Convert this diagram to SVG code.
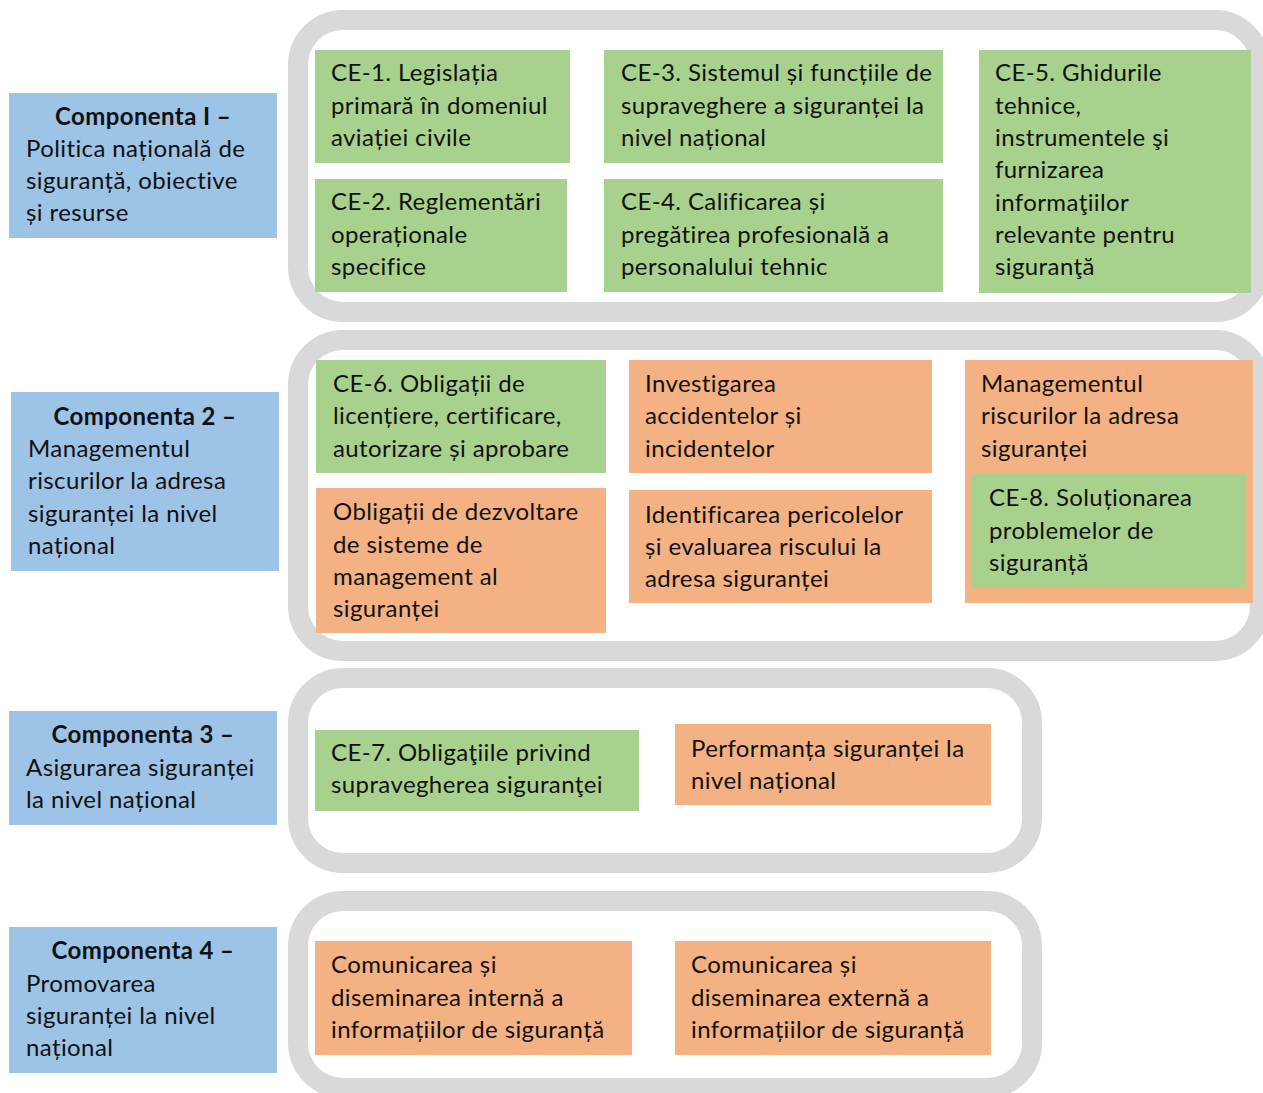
<svg xmlns="http://www.w3.org/2000/svg" width="1263" height="1093" viewBox="0 0 1263 1093">
<style>
text{font-family:Lato,"Liberation Sans",sans-serif;font-size:24px;letter-spacing:0.4px;fill:#111}
.b{font-weight:bold}
.c{text-anchor:middle}
.frame{fill:#fff;stroke:#d9d9d9;stroke-width:20}
.blue{fill:#9dc3e6}
.green{fill:#a9d18e}
.orange{fill:#f4b183}
</style>
<rect width="1263" height="1093" fill="#fff"/>
<g id="frames">
<rect class="frame" x="298" y="20" width="962" height="292" rx="45"/>
<rect class="frame" x="298" y="340" width="962" height="311" rx="45"/>
<rect class="frame" x="298" y="678" width="734" height="185" rx="45"/>
<rect class="frame" x="298" y="901" width="734" height="187" rx="45"/>
</g>
<g id="connectors"></g>
<g id="comp1"><rect class="blue" x="9" y="93" width="268" height="145"/>
<text class="b c" x="143" y="125">Componenta I –</text>
<text x="26" y="157">Politica națională de</text><text x="26" y="189">siguranță, obiective</text><text x="26" y="221">și resurse</text></g>
<g id="comp2"><rect class="blue" x="11" y="392" width="268" height="179"/>
<text class="b c" x="145" y="425">Componenta 2 –</text>
<text x="28" y="457">Managementul</text><text x="28" y="489">riscurilor la adresa</text><text x="28" y="522">siguranței la nivel</text><text x="28" y="554">național</text></g>
<g id="comp3"><rect class="blue" x="9" y="711" width="268" height="114"/>
<text class="b c" x="143" y="743">Componenta 3 –</text>
<text x="26" y="776">Asigurarea siguranței</text><text x="26" y="808">la nivel național</text></g>
<g id="comp4"><rect class="blue" x="9" y="927" width="268" height="146"/>
<text class="b c" x="143" y="959">Componenta 4 –</text>
<text x="26" y="992">Promovarea</text><text x="26" y="1024">siguranței la nivel</text><text x="26" y="1056">național</text></g>
<g id="ce1"><rect class="green" x="315" y="50" width="255" height="113"/>
<text x="331" y="81">CE-1. Legislația</text><text x="331" y="114">primară în domeniul</text><text x="331" y="146">aviației civile</text></g>
<g id="ce3"><rect class="green" x="604" y="50" width="339" height="113"/>
<text x="621" y="81">CE-3. Sistemul și funcțiile de</text><text x="621" y="114">supraveghere a siguranței la</text><text x="621" y="146">nivel național</text></g>
<g id="ce5"><rect class="green" x="979" y="50" width="272" height="243"/>
<text x="995" y="81">CE-5. Ghidurile</text><text x="995" y="114">tehnice,</text><text x="995" y="146">instrumentele şi</text><text x="995" y="178">furnizarea</text><text x="995" y="211">informaţiilor</text><text x="995" y="243">relevante pentru</text><text x="995" y="275">siguranţă</text></g>
<g id="ce2"><rect class="green" x="315" y="179" width="252" height="113"/>
<text x="331" y="210">CE-2. Reglementări</text><text x="331" y="243">operaționale</text><text x="331" y="275">specifice</text></g>
<g id="ce4"><rect class="green" x="604" y="179" width="339" height="113"/>
<text x="621" y="210">CE-4. Calificarea și</text><text x="621" y="243">pregătirea profesională a</text><text x="621" y="275">personalului tehnic</text></g>
<g id="ce6"><rect class="green" x="316" y="360" width="290" height="113"/>
<text x="333" y="392">CE-6. Obligații de</text><text x="333" y="424">licențiere, certificare,</text><text x="333" y="457">autorizare și aprobare</text></g>
<g id="obl"><rect class="orange" x="316" y="488" width="290" height="145"/>
<text x="333" y="520">Obligații de dezvoltare</text><text x="333" y="553">de sisteme de</text><text x="333" y="585">management al</text><text x="333" y="617">siguranței</text></g>
<g id="inv"><rect class="orange" x="629" y="360" width="303" height="113"/>
<text x="645" y="392">Investigarea</text><text x="645" y="424">accidentelor și</text><text x="645" y="457">incidentelor</text></g>
<g id="ident"><rect class="orange" x="629" y="490" width="303" height="113"/>
<text x="645" y="523">Identificarea pericolelor</text><text x="645" y="555">și evaluarea riscului la</text><text x="645" y="587">adresa siguranței</text></g>
<g id="mgmt"><rect class="orange" x="965" y="360" width="288" height="243"/>
<text x="981" y="392">Managementul</text><text x="981" y="424">riscurilor la adresa</text><text x="981" y="457">siguranței</text></g>
<g id="ce8"><rect class="green" x="972" y="474" width="274" height="113"/>
<text x="989" y="506">CE-8. Soluționarea</text><text x="989" y="539">problemelor de</text><text x="989" y="571">siguranță</text></g>
<g id="ce7"><rect class="green" x="315" y="730" width="324" height="81"/>
<text x="331" y="761">CE-7. Obligaţiile privind</text><text x="331" y="793">supravegherea siguranţei</text></g>
<g id="perf"><rect class="orange" x="675" y="724" width="316" height="81"/>
<text x="691" y="757">Performanța siguranței la</text><text x="691" y="789">nivel național</text></g>
<g id="comint"><rect class="orange" x="315" y="941" width="317" height="114"/>
<text x="331" y="973">Comunicarea și</text><text x="331" y="1006">diseminarea internă a</text><text x="331" y="1038">informațiilor de siguranță</text></g>
<g id="comext"><rect class="orange" x="675" y="941" width="316" height="114"/>
<text x="691" y="973">Comunicarea și</text><text x="691" y="1006">diseminarea externă a</text><text x="691" y="1038">informațiilor de siguranță</text></g>
</svg>
